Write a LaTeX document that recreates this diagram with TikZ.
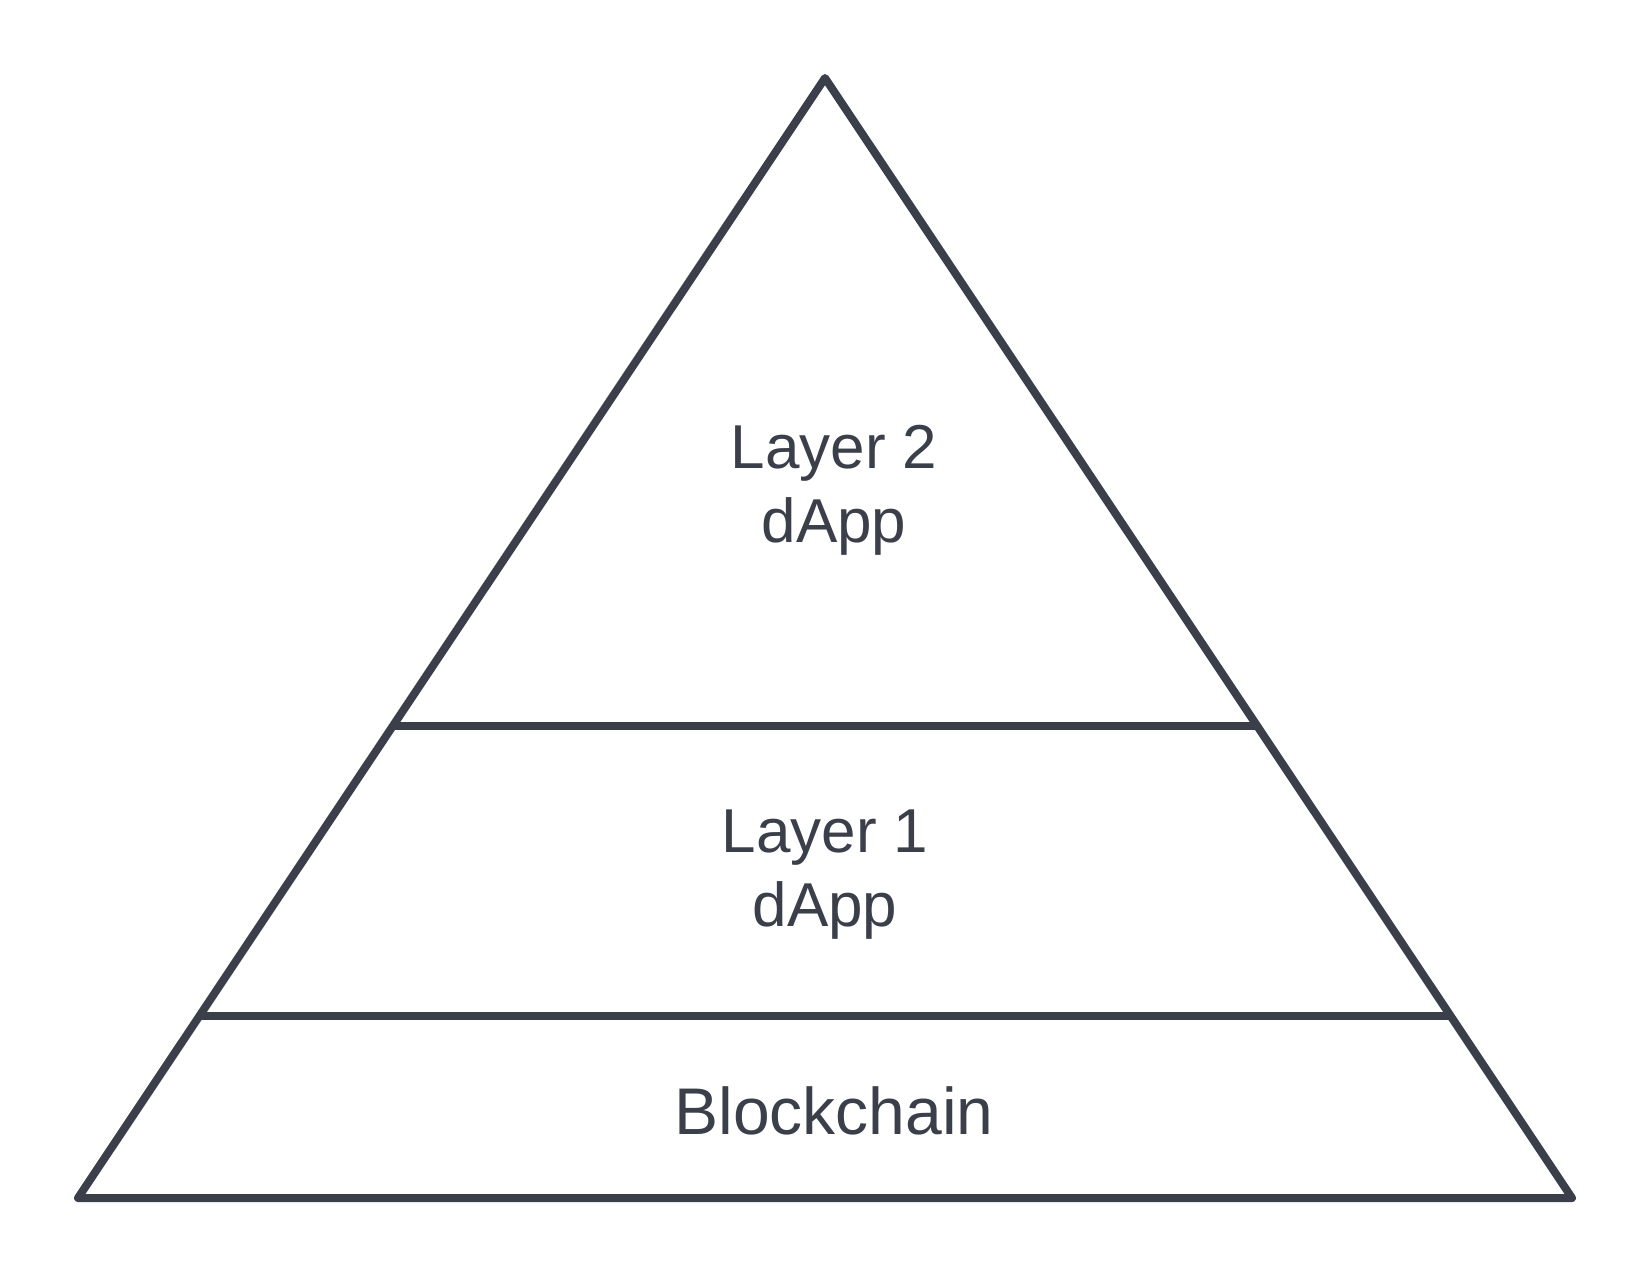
\documentclass[tikz,border=0pt]{standalone}
\usepackage{fontspec}
\setmainfont{Liberation Sans}
\usetikzlibrary{calc}
\definecolor{ink}{HTML}{3A3F4A}
\tikzset{
  outline/.style={draw=ink, line width=8pt, line join=round, line cap=round},
  label/.style={text=ink, align=center, inner sep=0pt, font=\fontsize{62}{74}\selectfont},
}
\begin{document}
\begin{tikzpicture}[x=1pt,y=-1pt]
\useasboundingbox (0,0) rectangle (1650,1275);
\coordinate (apex) at (825,78);
\coordinate (bl) at (78,1198);
\coordinate (br) at (1572,1198);
\draw[outline] (apex) -- (bl) -- (br) -- cycle;
\coordinate (l1a) at ($(apex)!0.5786!(bl)$);
\coordinate (l1b) at ($(apex)!0.5786!(br)$);
\coordinate (l2a) at ($(apex)!0.8375!(bl)$);
\coordinate (l2b) at ($(apex)!0.8375!(br)$);
\draw[outline, line cap=butt] (l1a) -- (l1b);
\draw[outline, line cap=butt] (l2a) -- (l2b);
\node[label] (top) at (834,490) {Layer 2\\dApp};
\node[label] (mid) at (825,875) {Layer 1\\dApp};
\node[label, font=\fontsize{66}{74}\selectfont] (base) at (834,1111) {Blockchain};
\end{tikzpicture}
\end{document}
